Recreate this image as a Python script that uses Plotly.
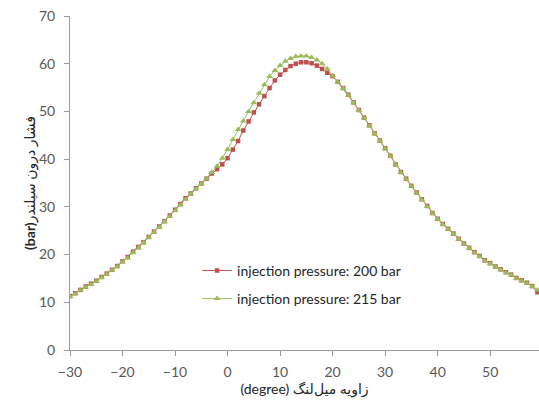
import plotly.graph_objects as go

crank_angle = list(range(-30, 60))

p200 = [11.3, 11.9, 12.6, 13.3, 13.9, 14.5, 15.3, 16.0, 16.8, 17.6,
        18.6, 19.5, 20.6, 21.6, 22.6, 23.7, 24.8, 25.9, 27.0, 28.2,
        29.4, 30.6, 31.8, 32.8, 33.9, 34.9, 35.9, 37.0, 37.9, 38.9,
        40.2, 42.0, 43.8, 46.0, 47.9, 49.8, 51.5, 53.2, 54.9, 56.5,
        57.7, 58.7, 59.5, 60.0, 60.3, 60.3, 60.1, 59.6, 58.9, 58.1,
        57.4, 56.2, 54.9, 53.5, 51.9, 50.3, 48.7, 47.1, 45.4, 43.9,
        42.3, 40.7, 38.9, 37.3, 35.9, 34.4, 33.0, 31.6, 30.2, 28.7,
        27.5, 26.4, 25.4, 24.4, 23.3, 22.3, 21.4, 20.5, 19.7, 18.8,
        18.2, 17.5, 16.9, 16.3, 15.8, 15.1, 14.6, 14.1, 13.4, 12.1]

p215 = [11.2, 11.8, 12.5, 13.2, 13.8, 14.4, 15.2, 15.9, 16.7, 17.5,
        18.5, 19.3, 20.4, 21.4, 22.5, 23.6, 24.7, 25.8, 26.9, 28.0,
        29.2, 30.4, 31.6, 32.7, 33.8, 34.8, 35.9, 37.2, 38.5, 40.2,
        42.0, 44.1, 46.2, 48.0, 50.0, 51.8, 53.8, 55.6, 57.3, 58.6,
        59.6, 60.5, 61.1, 61.5, 61.6, 61.6, 61.3, 60.8, 60.0, 58.9,
        57.5, 56.1, 54.8, 53.4, 51.8, 50.2, 48.6, 47.0, 45.3, 43.8,
        42.2, 40.6, 38.8, 37.2, 35.8, 34.3, 32.9, 31.5, 30.1, 28.6,
        27.4, 26.3, 25.3, 24.3, 23.2, 22.2, 21.3, 20.4, 19.6, 18.7,
        18.1, 17.4, 16.8, 16.2, 15.7, 15.0, 14.5, 14.0, 13.3, 12.6]

names = ["injection pressure: 200 bar", "injection pressure: 215 bar"]
x_title = "(degree) زاویه میل‌لنگ"
y_title = "<b>(bar)</b>فشار درون سیلندر"

RED = "#C0504D"
GREEN = "#9BBB59"
FONT = "Lato, 'DejaVu Sans', sans-serif"

fig = go.Figure()
fig.add_trace(go.Scatter(
    x=crank_angle, y=p200, name=names[0], mode="lines+markers",
    line=dict(color=RED, width=1),
    marker=dict(symbol="square", size=4.5, color=RED),
    legendgroup="a"))
fig.add_trace(go.Scatter(
    x=crank_angle, y=p215, name=names[1], mode="lines+markers",
    line=dict(color=GREEN, width=1),
    marker=dict(symbol="triangle-up", size=6, color=GREEN),
    legendgroup="b"))

axis_common = dict(
    showline=True, linecolor="#9A9A9A", linewidth=1,
    ticks="outside", ticklen=5, tickcolor="#9A9A9A",
    showgrid=False, zeroline=False, automargin=False,
    ticklabeloverflow="allow",
    tickfont=dict(family=FONT, size=14, color="#595959"),
)

fig.update_layout(
    width=539, height=405,
    margin=dict(l=70, r=0, t=16, b=55),
    paper_bgcolor="white", plot_bgcolor="white",
    font=dict(family=FONT, color="#262626"),
    showlegend=True,
    legend=dict(
        x=0.271, y=0.285, xanchor="left", yanchor="top",
        bgcolor="rgba(255,255,255,0)",
        font=dict(family=FONT, size=14, color="#262626"),
        tracegroupgap=7, itemwidth=30,
    ),
    xaxis=dict(
        range=[-30, 59.3], tickmode="array",
        tickvals=[-30, -20, -10, 0, 10, 20, 30, 40, 50],
        ticklabelstandoff=4,
        title=dict(text=x_title, font=dict(family=FONT, size=14, color="#262626"), standoff=0),
        **axis_common),
    yaxis=dict(
        range=[0, 70], tickmode="array",
        tickvals=[0, 10, 20, 30, 40, 50, 60, 70],
        ticklabelstandoff=6,
        title=dict(text=y_title, font=dict(family=FONT, size=14, color="#262626"), standoff=0),
        **axis_common),
)

fig.write_html(
    "out.html",
    config={"displayModeBar": False},
    post_script="document.body.style.margin='0';document.body.style.overflow='hidden';",
)
